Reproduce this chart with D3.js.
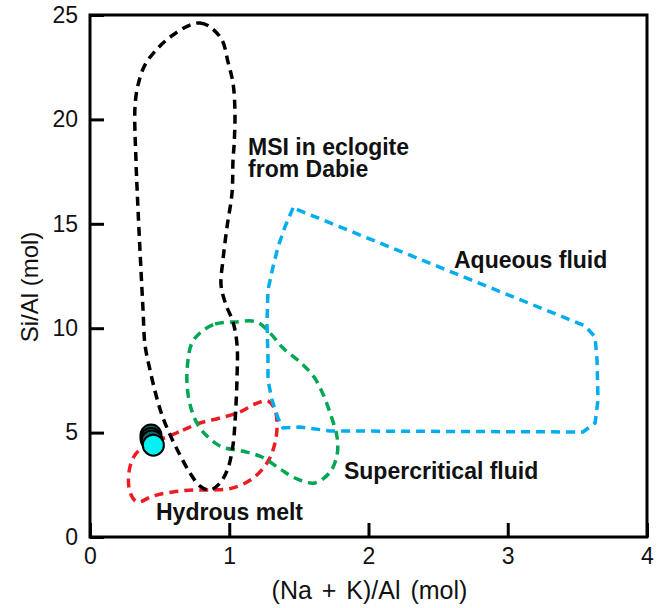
<!DOCTYPE html>
<html>
<head>
<meta charset="utf-8">
<script src="https://cdn.jsdelivr.net/npm/d3@7"></script>
<style>
  html, body { margin: 0; padding: 0; background: #fff; }
  svg { display: block; font-family: "Liberation Sans", Arial, sans-serif; }
</style>
</head>
<body>
<div id="chart"></div>
<script>
// Fields in (Na+K)/Al vs Si/Al space (data units)
const msiField = [
  [0.718, 24.52], [0.790, 24.62], [0.862, 24.43], [0.948, 23.80], [0.991, 22.75],
  [1.027, 21.74], [1.041, 20.31], [1.035, 18.80], [1.027, 18.06], [1.020, 16.48],
  [0.984, 14.85], [0.955, 13.27], [0.941, 12.07], [0.977, 11.11], [1.027, 10.30],
  [1.056, 9.20], [1.056, 7.66], [1.041, 5.46], [1.027, 4.41], [0.991, 3.30],
  [0.934, 2.59], [0.862, 2.25], [0.790, 2.44], [0.718, 3.07], [0.646, 3.93],
  [0.575, 4.89], [0.517, 5.84], [0.474, 6.80], [0.431, 8.00], [0.395, 9.20],
  [0.381, 10.87], [0.366, 12.79], [0.345, 15.66], [0.330, 18.06], [0.323, 20.59],
  [0.345, 21.65], [0.395, 22.61], [0.488, 23.42], [0.596, 24.04]
];

const supercriticalField = [
  [0.790, 9.77], [0.898, 10.20], [1.041, 10.30], [1.199, 10.30], [1.293, 9.77],
  [1.386, 9.05], [1.508, 8.38], [1.609, 7.66], [1.673, 6.85], [1.724, 5.94],
  [1.774, 4.79], [1.774, 3.93], [1.724, 3.11], [1.616, 2.59], [1.487, 2.78],
  [1.364, 3.26], [1.235, 3.83], [1.092, 4.12], [0.948, 4.31], [0.847, 4.79],
  [0.776, 5.36], [0.725, 6.18], [0.697, 7.28], [0.704, 8.48], [0.732, 9.29]
];

const meltField = [
  [0.553, 4.79], [0.668, 5.12], [0.790, 5.46], [0.934, 5.70], [1.077, 5.99],
  [1.185, 6.37], [1.278, 6.51], [1.329, 6.08], [1.343, 5.22], [1.321, 4.31],
  [1.271, 3.54], [1.163, 2.78], [1.027, 2.35], [0.883, 2.25], [0.740, 2.25],
  [0.596, 2.16], [0.452, 1.96], [0.338, 1.68], [0.287, 2.16], [0.280, 3.11],
  [0.323, 3.93], [0.431, 4.50]
];

const aqueousField = [
  [1.458, 15.76], [1.400, 14.85], [1.350, 13.89], [1.314, 12.93], [1.278, 11.83],
  [1.271, 10.25], [1.278, 8.62], [1.278, 7.52], [1.307, 6.56], [1.350, 5.70],
  [1.386, 5.22], [1.508, 5.27], [1.724, 5.08], [3.540, 5.03], [3.627, 5.46],
  [3.648, 6.56], [3.641, 8.48], [3.627, 9.58], [3.555, 10.11]
];

// MSI analyses (dark ones underneath, the cyan one on top)
const samplesX = [0.438, 0.438, 0.445, 0.455];
const samplesY = [4.88, 4.72, 4.60, 4.40];

const xTicks = [0, 1, 2, 3, 4];
const yTicks = [0, 5, 10, 15, 20, 25];

const labels = [
  { lines: ["MSI in eclogite", "from Dabie"], x: 1.135, y: 18.30 },
  { lines: ["Aqueous fluid"], x: 2.614, y: 12.88 },
  { lines: ["Supercritical fluid"], x: 1.824, y: 2.78 },
  { lines: ["Hydrous melt"], x: 0.474, y: 0.81 }
];

// ---- Layout ----
const width = 662, height = 608;
const margin = { top: 15, right: 15, bottom: 71, left: 90 };

const x = d3.scaleLinear([0, 4], [margin.left, width - margin.right]);
const y = d3.scaleLinear([0, 25], [height - margin.bottom, margin.top]);

const svg = d3.select("#chart").append("svg")
  .attr("width", width)
  .attr("height", height);

const line = d3.line().x(d => x(d[0])).y(d => y(d[1]));

const fields = [
  { pts: meltField, color: "#ed1c24", curve: d3.curveCatmullRomClosed.alpha(0.5) },
  { pts: supercriticalField, color: "#00a651", curve: d3.curveCatmullRomClosed.alpha(0.5) },
  { pts: aqueousField, color: "#00aeef", curve: d3.curveLinearClosed },
  { pts: msiField, color: "#000", curve: d3.curveCatmullRomClosed.alpha(0.5) }
];

svg.append("g")
  .selectAll("path")
  .data(fields)
  .join("path")
  .attr("d", d => line.curve(d.curve)(d.pts))
  .attr("fill", "none")
  .attr("stroke", d => d.color)
  .attr("stroke-width", 3.5)
  .attr("stroke-dasharray", "9,6");

// sample dots
svg.append("g")
  .selectAll("circle")
  .data(samplesX.map((v, i) => [v, samplesY[i]]))
  .join("circle")
  .attr("cx", d => x(d[0]))
  .attr("cy", d => y(d[1]))
  .attr("r", 10.5)
  .attr("fill", (d, i) => i === samplesX.length - 1 ? "#00f2f2" : "#0b6b6b")
  .attr("stroke", "#000")
  .attr("stroke-width", 2);

// axes (ticks point inward)
const xAxis = svg.append("g")
  .attr("transform", `translate(0,${y(0)})`)
  .call(d3.axisBottom(x).tickValues(xTicks).tickSize(-14).tickPadding(11).tickFormat(d3.format("d")));
const yAxis = svg.append("g")
  .attr("transform", `translate(${x(0)},0)`)
  .call(d3.axisLeft(y).tickValues(yTicks).tickSize(-14).tickPadding(12).tickFormat(d3.format("d")));

[xAxis, yAxis].forEach(g => {
  g.select(".domain").remove();
  g.selectAll(".tick line").attr("stroke", "#000").attr("stroke-width", 3);
  g.selectAll(".tick text")
    .attr("fill", "#111")
    .attr("font-size", 23)
    .attr("font-family", "Liberation Sans, Arial, sans-serif");
});

// frame
svg.append("rect")
  .attr("x", x(0))
  .attr("y", y(25))
  .attr("width", x(4) - x(0))
  .attr("height", y(0) - y(25))
  .attr("fill", "none")
  .attr("stroke", "#000")
  .attr("stroke-width", 3);

// axis titles
svg.append("text")
  .attr("x", (x(0) + x(4)) / 2 + 1)
  .attr("y", 599)
  .attr("text-anchor", "middle")
  .attr("font-size", 25)
  .attr("word-spacing", 3)
  .attr("fill", "#111")
  .text("(Na + K)/Al (mol)");

svg.append("text")
  .attr("transform", `translate(38,${(y(0) + y(25)) / 2 + 11}) rotate(-90)`)
  .attr("text-anchor", "middle")
  .attr("font-size", 24)
  .attr("fill", "#111")
  .text("Si/Al (mol)");

// field labels
const lab = svg.append("g")
  .attr("font-size", 23)
  .attr("font-weight", "bold")
  .attr("fill", "#111");

labels.forEach(l => {
  const t = lab.append("text")
    .attr("x", x(l.x))
    .attr("y", y(l.y));
  l.lines.forEach((s, i) => {
    t.append("tspan")
      .attr("x", x(l.x))
      .attr("dy", i === 0 ? 0 : 22)
      .text(s);
  });
});
</script>
</body>
</html>
